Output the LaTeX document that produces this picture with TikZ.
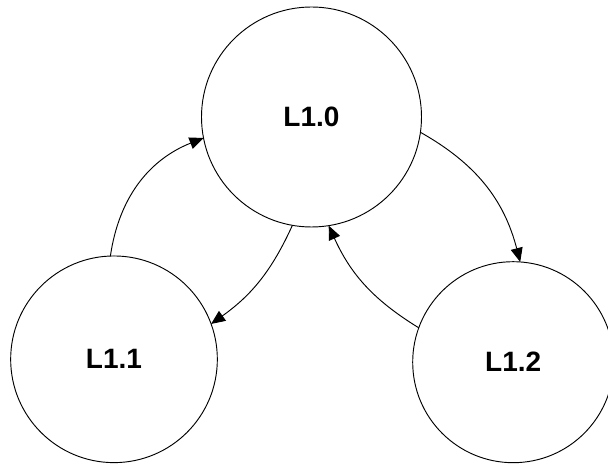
\documentclass[tikz,border=0pt]{standalone}
\usepackage{fontspec}
\setmainfont{Liberation Sans}
\usetikzlibrary{arrows.meta,shapes.geometric}
\begin{document}
\begin{tikzpicture}[x=0.75pt,y=-0.75pt,
  state/.style={circle,draw=black,line width=0.7pt,inner sep=0pt,outer sep=0pt,
    font=\fontsize{21pt}{25pt}\selectfont\bfseries},
  link/.style={line width=0.7pt,-{Triangle[length=10.5pt,width=9pt]}}]
\useasboundingbox (0,0) rectangle (608,466);
\node[state,minimum size=165pt] (L10) at (311.5,117) {L1.0};
\node[state,minimum size=155pt] (L11) at (114,359.3) {L1.1};
\node[state,minimum size=150.75pt] (L12) at (513.2,362.2) {L1.2};
\draw[link] (L11.92) to[bend left=30] (L10.191);
\draw[link] (L10.260) to[bend left=15] (L11.20);
\draw[link] (L10.-8) to[bend left=23] (L12.86);
\draw[link] (L12.160) to[bend left=17] (L10.-81);
\end{tikzpicture}
\end{document}
